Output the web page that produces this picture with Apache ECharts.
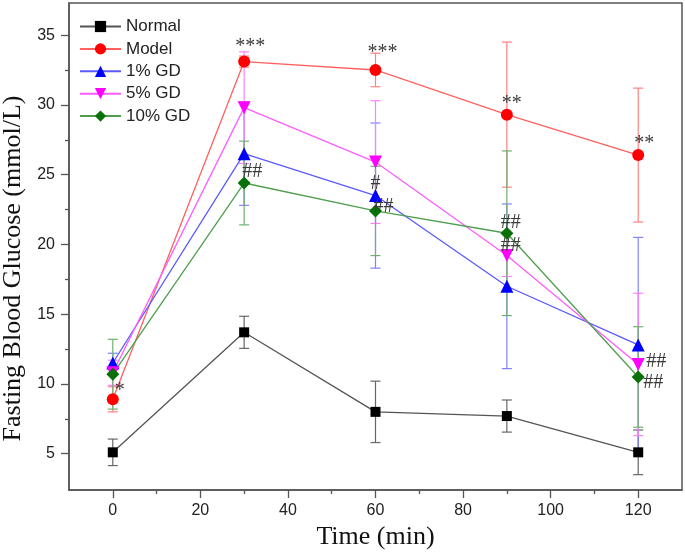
<!DOCTYPE html>
<html>
<head>
<meta charset="utf-8">
<script src="https://cdn.jsdelivr.net/npm/echarts@6/dist/echarts.min.js"></script>
<style>
  html, body { margin: 0; padding: 0; background: #fff; }
  #chart { width: 685px; height: 552px; }
</style>
</head>
<body>
<div id="chart"></div>
<script>
// time points (min) and axis ticks
const times = [0, 30, 60, 90, 120]
const xMajorTicks = [0, 20, 40, 60, 80, 100, 120]
const xMinorTicks = [10, 30, 50, 70, 90, 110]
const yMajorTicks = [5, 10, 15, 20, 25, 30, 35]
const yMinorTicks = [7.5, 12.5, 17.5, 22.5, 27.5, 32.5]

// mean and SD per group
const normalMean = [5.1, 13.7, 8.0, 7.7, 5.1]
const normalSd = [0.95, 1.15, 2.2, 1.15, 1.6]
const modelMean = [8.9, 33.1, 32.5, 29.3, 26.4]
const modelSd = [0.9, 0.4, 1.2, 5.2, 4.8]
const gd1Mean = [11.5, 26.5, 23.5, 17.0, 12.8]
const gd1Sd = [0.7, 3.7, 5.2, 5.9, 7.7]
const gd5Mean = [10.8, 29.8, 25.9, 19.2, 11.4]
const gd5Sd = [0.9, 4.0, 4.4, 1.5, 5.1]
const gd10Mean = [10.7, 24.4, 22.4, 20.8, 10.5]
const gd10Sd = [2.5, 3.0, 3.2, 5.9, 3.6]

// significance marks
const normalMarks = ['', '', '', '', '']
const modelMarks = ['*', '***', '***', '**', '**']
const gd1Marks = ['', '', '#', '', '']
const gd5Marks = ['', '', '', '##', '##']
const gd10Marks = ['', '##', '##', '##', '##']

const serif = 'Liberation Serif'
const sans = 'Liberation Sans'
const axisGray = '#555'

function errorBars (name, mean, sd, color) {
  return {
    type: 'custom',
    name: name + ' SD',
    z: 1,
    silent: true,
    data: times.map((t, i) => [t, mean[i] - sd[i], mean[i] + sd[i]]),
    encode: { x: 0, y: [1, 2] },
    renderItem: function (params, api) {
      const lo = api.coord([api.value(0), api.value(1)])
      const hi = api.coord([api.value(0), api.value(2)])
      const w = 5
      const style = { stroke: color, lineWidth: 1.2 }
      return {
        type: 'group',
        children: [
          { type: 'line', shape: { x1: lo[0], y1: lo[1], x2: hi[0], y2: hi[1] }, style: style },
          { type: 'line', shape: { x1: lo[0] - w, y1: lo[1], x2: lo[0] + w, y2: lo[1] }, style: style },
          { type: 'line', shape: { x1: hi[0] - w, y1: hi[1], x2: hi[0] + w, y2: hi[1] }, style: style }
        ]
      }
    }
  }
}

function lineSeries (name, mean, marks, offsets, lineColor, markerColor, symbol, size, rotate) {
  return {
    type: 'line',
    name: name,
    z: 3,
    symbol: symbol,
    symbolSize: size,
    symbolRotate: rotate || 0,
    lineStyle: { color: lineColor, width: 1.3 },
    itemStyle: { color: markerColor },
    data: times.map((t, i) => {
      const item = { value: [t, mean[i]] }
      if (marks[i]) {
        item.label = {
          show: true,
          position: 'inside',
          formatter: marks[i],
          offset: offsets[i],
          color: '#3a3a3a',
          fontFamily: serif,
          fontSize: 20
        }
      }
      return item
    })
  }
}

const names = ['Normal', 'Model', '1% GD', '5% GD', '10% GD']

const option = {
  backgroundColor: '#fff',
  animation: false,
  grid: {
    left: 69,
    right: 3,
    top: 3,
    bottom: 62,
    outerBoundsMode: 'none',
    show: true,
    borderColor: axisGray,
    borderWidth: 1.5
  },
  legend: {
    data: names,
    orient: 'vertical',
    left: 79,
    top: 18,
    padding: 0,
    itemWidth: 41,
    itemHeight: 14,
    itemGap: 5.4,
    textStyle: { fontFamily: sans, fontSize: 17, lineHeight: 17, color: '#222' }
  },
  xAxis: [{
    type: 'value',
    min: -10,
    max: 130,
    name: 'Time (min)',
    nameLocation: 'middle',
    nameGap: 33,
    nameTextStyle: { fontFamily: serif, fontSize: 26, color: '#111' },
    axisLine: { onZero: false, lineStyle: { color: axisGray, width: 1.5 } },
    axisTick: { customValues: xMajorTicks, length: 8, lineStyle: { color: axisGray, width: 1.3 } },
    axisLabel: { customValues: xMajorTicks, margin: 13, fontFamily: sans, fontSize: 16, color: '#222' },
    splitLine: { show: false }
  }, {
    type: 'value',
    min: -10,
    max: 130,
    position: 'bottom',
    axisLine: { show: false, onZero: false },
    axisTick: { customValues: xMinorTicks, length: 4, lineStyle: { color: axisGray, width: 1.3 } },
    axisLabel: { show: false },
    splitLine: { show: false }
  }],
  yAxis: [{
    type: 'value',
    min: 2.4,
    max: 37.3,
    name: 'Fasting Blood Glucose (mmol/L)',
    nameLocation: 'middle',
    nameGap: 37,
    nameTextStyle: { fontFamily: serif, fontSize: 26, color: '#111', padding: [0, 44, 0, 0] },
    axisLine: { show: true, onZero: false, lineStyle: { color: axisGray, width: 1.5 } },
    axisTick: { show: true, customValues: yMajorTicks, length: 8, lineStyle: { color: axisGray, width: 1.3 } },
    axisLabel: { customValues: yMajorTicks, margin: 14, fontFamily: sans, fontSize: 16, color: '#222' },
    splitLine: { show: false }
  }, {
    type: 'value',
    min: 2.4,
    max: 37.3,
    position: 'left',
    axisLine: { show: false, onZero: false },
    axisTick: { show: true, customValues: yMinorTicks, length: 4, lineStyle: { color: axisGray, width: 1.3 } },
    axisLabel: { show: false },
    splitLine: { show: false }
  }],
  series: [
    errorBars('Normal', normalMean, normalSd, '#666'),
    errorBars('Model', modelMean, modelSd, '#ff8080'),
    errorBars('1% GD', gd1Mean, gd1Sd, '#8080ff'),
    errorBars('5% GD', gd5Mean, gd5Sd, '#ff80ff'),
    errorBars('10% GD', gd10Mean, gd10Sd, '#70b070'),
    lineSeries('Normal', normalMean, normalMarks, [], '#555', '#000', 'rect', 10),
    lineSeries('Model', modelMean, modelMarks,
      [[7, -9], [6, -15], [7, -17], [5, -11], [6, -11]], '#ff6060', '#ff0000', 'circle', 12),
    lineSeries('1% GD', gd1Mean, gd1Marks,
      [[0, 0], [0, 0], [0, -12], [0, 0], [0, 0]], '#5a5aff', '#0000ff', 'triangle', 13),
    lineSeries('5% GD', gd5Mean, gd5Marks,
      [[0, 0], [0, 0], [0, 0], [4, -10], [18, -3]], '#ff5cff', '#ff00ff', 'triangle', 13, 180),
    lineSeries('10% GD', gd10Mean, gd10Marks,
      [[0, 0], [8, -11], [8, -4], [4, -10], [15, 6]], '#4f9f4f', '#0a700a', 'diamond', 13)
  ]
}

const chart = echarts.init(document.getElementById('chart'))
chart.setOption(option)
</script>
</body>
</html>
